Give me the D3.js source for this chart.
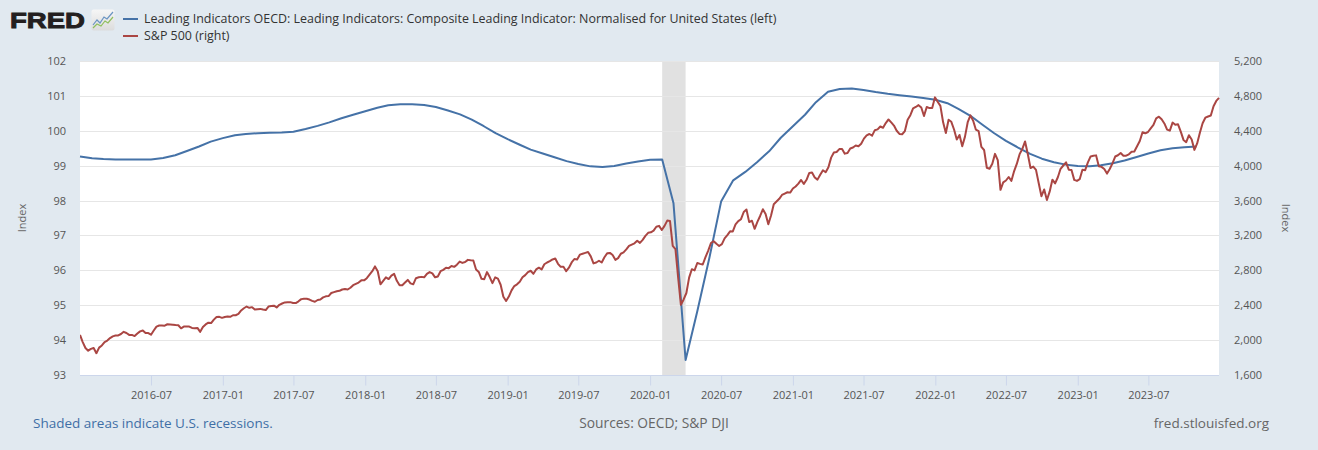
<!DOCTYPE html>
<html>
<head>
<meta charset="utf-8">
<script src="https://cdn.jsdelivr.net/npm/d3@7"></script>
<style>
  html, body { margin: 0; padding: 0; background: #e1e9f0; }
  svg { display: block; font-family: "Open Sans", "Noto Sans", sans-serif; }
</style>
</head>
<body>
<svg id="chart" width="1318" height="450"></svg>
<script>
// ---------------- DATA ----------------
const cliStart = "2016-01-01"; // monthly, first of month
const cliValues = [
  99.26, 99.21, 99.19, 99.18, 99.18, 99.18, 99.18, 99.22, 99.30, 99.42, 99.55, 99.69,
  99.79, 99.87, 99.91, 99.93, 99.94, 99.95, 99.97, 100.05, 100.14, 100.24, 100.36, 100.46,
  100.56, 100.66, 100.73, 100.76, 100.76, 100.74, 100.68, 100.58, 100.47, 100.32, 100.13, 99.93,
  99.76, 99.60, 99.46, 99.35, 99.24, 99.13, 99.05, 98.98, 98.96, 98.99, 99.06, 99.12,
  99.17, 99.18, 97.92, 93.43, 94.83, 96.36, 97.97, 98.58, 98.82, 99.10, 99.41, 99.80,
  100.13, 100.46, 100.82, 101.12, 101.20, 101.21, 101.17, 101.11, 101.06, 101.02, 100.98, 100.94,
  100.89, 100.79, 100.63, 100.43, 100.18, 99.93, 99.71, 99.52, 99.34, 99.20, 99.10, 99.03,
  98.99, 98.98, 99.01, 99.07, 99.15, 99.25, 99.35, 99.44, 99.50, 99.53, 99.55
];

// S&P 500, weekly average, week ending Friday; first Friday of each year
const spxFirstFriday = {
  2016: "2016-01-01", 2017: "2017-01-06", 2018: "2018-01-05", 2019: "2019-01-04",
  2020: "2020-01-03", 2021: "2021-01-01", 2022: "2022-01-07", 2023: "2023-01-06"
};
const spx2016 = [2060,1977,1910,1879,1899, 1910,1850,1914,1939, 1978,1995,2023,2043,
  2052,2054,2070,2095,2082, 2060,2060,2046,2075, 2100,2110,2081,2081, 2062,2110,2155,2168,2168,
  2166,2182,2180,2177, 2173,2170,2135,2155,2155, 2155,2140,2137,2140, 2095,2150,2180,2200,
  2195,2235,2265,2267,2255];
const spx2017 = [2265,2270,2267,2285, 2285,2300,2340,2365, 2385,2370,2378,2350,2355,
  2358,2350,2345,2385, 2390,2395,2375,2405, 2420,2432,2435,2435,2425, 2425,2445,2470,2475,
  2475,2465,2450,2440, 2460,2465,2490,2502,2505, 2540,2550,2560,2565, 2580,2585,2580,2600,
  2630,2645,2660,2685,2685];
const spx2018 = [2710,2750,2790,2845, 2790,2640,2680,2720, 2700,2740,2760,2680,2630,
  2630,2660,2690,2650, 2640,2710,2720,2725, 2720,2760,2780,2765,2720, 2730,2790,2805,2830,
  2825,2850,2840,2865,2900, 2885,2895,2920,2915, 2912,2809,2781,2703, 2699,2780,2723,2653,2719,
  2705,2635,2497,2449];
const spx2019 = [2499,2570,2620,2640, 2670,2720,2745,2780, 2795,2760,2810,2830,2810,
  2870,2890,2905,2925, 2935,2875,2840,2840,2790, 2830,2890,2930,2925, 2980,2990,3000,3010,
  2960,2880,2890,2910,2890, 2950,2995,3000,2975, 2920,2940,2990,3005, 3040,3080,3095,3110,3140,
  3115,3150,3195,3230];
const spx2020 = [3236,3255,3300,3310,3262, 3310,3370,3367,3081, 3044,2712,2405,2466,
  2540,2716,2813,2799, 2884,2874,2867,2951,3026, 3113,3134,3104,3079, 3100,3167,3204,3247,3246,
  3326,3364,3386,3469, 3498,3353,3369,3276, 3355,3423,3500,3445,3329, 3428,3558,3589,3620,
  3664,3680,3695,3691];
const spx2021 = [3738,3761,3794,3836,3791, 3838,3917,3921,3865, 3840,3895,3947,3925,
  3981,4092,4150,4157,4190, 4192,4138,4145,4197, 4208,4232,4223,4252, 4310,4348,4363,4344,4407,
  4416,4449,4435,4488, 4530,4497,4460,4400, 4364,4360,4397,4527,4579, 4656,4673,4694,4667,
  4570,4672,4660,4660,4783];
const spx2022 = [4733,4686,4497,4375, 4526,4503,4415,4301, 4352,4223,4333,4498,
  4577,4515,4412,4396,4215, 4180,3976,3964,4022, 4135,4063,3723,3808, 3830,3870,3826,3938,4023,
  4132,4192,4278,4133, 3972,3990,3952,3799,3650, 3727,3606,3702,3839, 3796,3867,3964,4002,
  4038,3954,3951,3837,3825];
const spx2023 = [3845,3953,3948,4037, 4106,4113,4118,3993, 3986,3961,3909,3962,4027,
  4105,4119,4145,4114, 4115,4130,4159,4162, 4222,4283,4383,4371,4386, 4428,4467,4543,4561,
  4532,4484,4414,4401, 4494,4468,4474,4390,4295, 4269,4349,4300,4181, 4255,4378,4486,4550,
  4564,4575,4682,4742,4777];
const spxByYear = {2016: spx2016, 2017: spx2017, 2018: spx2018, 2019: spx2019,
  2020: spx2020, 2021: spx2021, 2022: spx2022, 2023: spx2023};

const recessions = [["2020-02-01", "2020-04-01"]];
const xTickDates = ["2016-07-01","2017-01-01","2017-07-01","2018-01-01","2018-07-01","2019-01-01",
  "2019-07-01","2020-01-01","2020-07-01","2021-01-01","2021-07-01","2022-01-01","2022-07-01",
  "2023-01-01","2023-07-01"];
const leftTicks = [93, 94, 95, 96, 97, 98, 99, 100, 101, 102];
const rightTicks = [1600, 2000, 2400, 2800, 3200, 3600, 4000, 4400, 4800, 5200];
const legendLabels = [
  "Leading Indicators OECD: Leading Indicators: Composite Leading Indicator: Normalised for United States (left)",
  "S&P 500 (right)"
];

// ---------------- BUILD SERIES ----------------
const parse = d3.utcParse("%Y-%m-%d");
const cli = cliValues.map((v, i) => ({ date: d3.utcMonth.offset(parse(cliStart), i), value: v }));
const spx = [];
Object.keys(spxByYear).forEach(y => {
  const start = parse(spxFirstFriday[y]);
  spxByYear[y].forEach((v, i) => spx.push({ date: d3.utcDay.offset(start, 7 * i), value: v }));
});

// ---------------- LAYOUT ----------------
const svg = d3.select("#chart");
const L = 80, R = 1219, T = 61, B = 375;
const x = d3.scaleUtc().domain([parse("2016-01-01"), parse("2023-12-29")]).range([L, R]);
const yL = d3.scaleLinear().domain([93, 102]).range([B, T]);
const yR = d3.scaleLinear().domain([1600, 5200]).range([B, T]);

// plot background
svg.append("rect").attr("x", L).attr("y", T).attr("width", R - L).attr("height", B - T).attr("fill", "#ffffff");

// recession band
svg.selectAll(".rec").data(recessions).enter().append("rect")
  .attr("x", d => x(parse(d[0]))).attr("y", T)
  .attr("width", d => x(parse(d[1])) - x(parse(d[0]))).attr("height", B - T)
  .attr("fill", "#e1e1e1");

// gridlines
svg.append("g").selectAll("line").data(leftTicks.filter(t => t !== 93)).enter().append("line")
  .attr("x1", L).attr("x2", R).attr("y1", d => Math.round(yL(d)) + 0.5).attr("y2", d => Math.round(yL(d)) + 0.5)
  .attr("stroke", "#e6e6e6").attr("stroke-width", 1);

// x axis
const xAxis = d3.axisBottom(x).tickValues(xTickDates.map(parse)).tickFormat(d3.utcFormat("%Y-%m"))
  .tickSize(10).tickPadding(6);
const gx = svg.append("g").attr("transform", `translate(0,${B + 0.5})`).call(xAxis);
gx.select(".domain").attr("stroke", "#ccd6eb").attr("d", `M${L},0H${R}`);
gx.selectAll(".tick line").attr("stroke", "#ccd6eb");
gx.selectAll(".tick text").attr("fill", "#555").style("font-size", "11px").style("font-family", "'Open Sans', sans-serif");

// left axis
const gl = svg.append("g").attr("transform", `translate(${L},0)`)
  .call(d3.axisLeft(yL).tickValues(leftTicks).tickSize(0).tickPadding(14).tickFormat(d3.format("d")));
gl.select(".domain").remove();
gl.selectAll(".tick text").attr("fill", "#555").style("font-size", "11px").style("font-family", "'Open Sans', sans-serif");

// right axis
const gr = svg.append("g").attr("transform", `translate(${R},0)`)
  .call(d3.axisRight(yR).tickValues(rightTicks).tickSize(0).tickPadding(15).tickFormat(d3.format(",")));
gr.select(".domain").remove();
gr.selectAll(".tick text").attr("fill", "#555").style("font-size", "11px").style("font-family", "'Open Sans', sans-serif");

// axis titles
svg.append("text").attr("transform", "translate(26,218) rotate(-90)").attr("text-anchor", "middle")
  .attr("fill", "#666").style("font-size", "11px").text("Index");
svg.append("text").attr("transform", "translate(1282,218) rotate(90)").attr("text-anchor", "middle")
  .attr("fill", "#666").style("font-size", "11px").text("Index");

// lines
const clip = svg.append("clipPath").attr("id", "plotclip").append("rect")
  .attr("x", L).attr("y", T - 2).attr("width", R - L + 2).attr("height", B - T + 4);
const lineL = d3.line().x(d => x(d.date)).y(d => yL(d.value));
const lineR = d3.line().x(d => x(d.date)).y(d => yR(d.value));
svg.append("path").datum(cli).attr("d", lineL).attr("fill", "none")
  .attr("stroke", "#4572a7").attr("stroke-width", 2).attr("stroke-linejoin", "round");
svg.append("path").datum(spx).attr("d", lineR).attr("fill", "none").attr("clip-path", "url(#plotclip)")
  .attr("stroke", "#aa4643").attr("stroke-width", 2).attr("stroke-linejoin", "round");

// logo
const logo = svg.append("g");
logo.append("text").attr("x", 10).attr("y", 28).attr("fill", "#231f20")
  .attr("stroke", "#231f20").attr("stroke-width", 0.9)
  .style("font-family", "'Liberation Sans', Arial, sans-serif").style("font-weight", "bold")
  .style("font-size", "22.5px").attr("textLength", 75).attr("lengthAdjust", "spacingAndGlyphs").text("FRED");
const grad = svg.append("defs").append("linearGradient").attr("id", "icong").attr("x1", 0).attr("y1", 0).attr("x2", 0).attr("y2", 1);
grad.append("stop").attr("offset", "0%").attr("stop-color", "#f6f6f6");
grad.append("stop").attr("offset", "100%").attr("stop-color", "#dcdcdc");
logo.append("rect").attr("x", 91.5).attr("y", 9.5).attr("width", 23).attr("height", 21).attr("rx", 2).attr("fill", "url(#icong)");
logo.append("polyline").attr("points", "93,25 97,20 100,23 104,17 107,19 113,12")
  .attr("fill", "none").attr("stroke", "#6a94c2").attr("stroke-width", 1.2);
logo.append("polyline").attr("points", "93,28 97,24 101,26 105,21 108,23 113,17")
  .attr("fill", "none").attr("stroke", "#8fbf5e").attr("stroke-width", 1.2);

// legend
const legColors = ["#4572a7", "#aa4643"];
legendLabels.forEach((lab, i) => {
  const yy = 19 + i * 17;
  svg.append("line").attr("x1", 123).attr("x2", 138).attr("y1", yy).attr("y2", yy)
    .attr("stroke", legColors[i]).attr("stroke-width", 2);
  svg.append("text").attr("x", 144).attr("y", yy + 4).attr("fill", "#333")
    .style("font-size", "12.45px").text(lab);
});

// footer
svg.append("text").attr("x", 33).attr("y", 428).attr("fill", "#3f6fa6").style("font-size", "13.5px")
  .text("Shaded areas indicate U.S. recessions.");
svg.append("text").attr("x", 654).attr("y", 428).attr("text-anchor", "middle").attr("fill", "#666").style("font-size", "13.8px")
  .text("Sources: OECD; S&P DJI");
svg.append("text").attr("x", 1269).attr("y", 428).attr("text-anchor", "end").attr("fill", "#666").style("font-size", "13.5px")
  .text("fred.stlouisfed.org");
</script>
</body>
</html>
